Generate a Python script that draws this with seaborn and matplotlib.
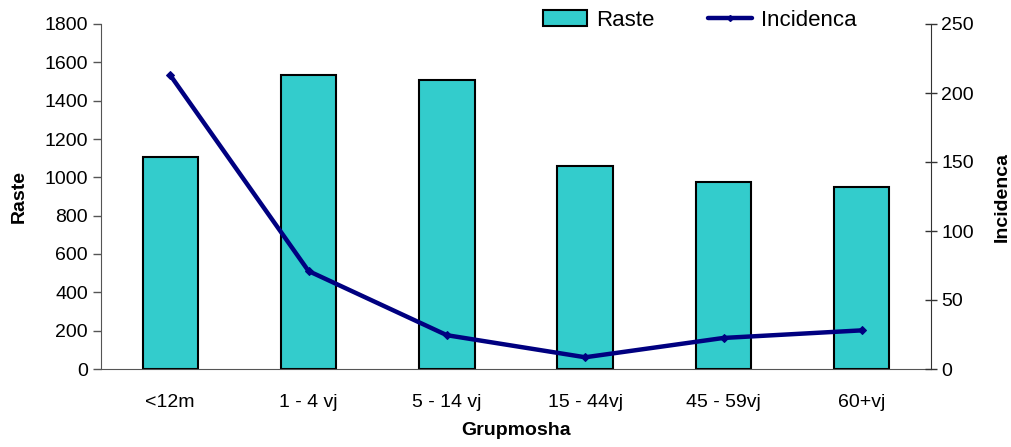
import matplotlib
matplotlib.use("Agg")
import matplotlib.pyplot as plt
import seaborn as sns
import pandas as pd
import numpy as np
from matplotlib.patches import Patch
from matplotlib.lines import Line2D

categories = ["<12m", "1 - 4 vj", "5 - 14 vj", "15 - 44vj", "45 - 59vj", "60+vj"]
raste = [1108, 1534, 1508, 1060, 976, 950]
incidenca = [213, 71, 24.5, 8.5, 22.5, 28]

sns.set_style("white")
plt.rcParams['font.family'] = ['Liberation Sans', 'DejaVu Sans']
plt.rcParams['text.color'] = 'black'
plt.rcParams['axes.labelcolor'] = 'black'
plt.rcParams['xtick.color'] = 'black'
plt.rcParams['ytick.color'] = 'black'

df = pd.DataFrame({"Grupmosha": categories, "Raste": raste, "Incidenca": incidenca,
                   "pos": np.arange(len(categories))})

fig = plt.figure(figsize=(10.12, 4.47), dpi=100)
ax = fig.add_axes([101/1012, 1-369/447, (931-101)/1012, (369-24)/447])

sns.barplot(data=df, x="Grupmosha", y="Raste", ax=ax, color="#33CCCC",
            edgecolor="black", linewidth=1.5, width=0.4, saturation=1)
ax.set_xlim(-0.5, len(categories)-0.5)
ax.set_ylim(0, 1800)
ax.set_yticks(range(0, 1801, 200))
ax.set_xticks(np.arange(len(categories)))
ax.set_xticklabels(categories)
ax.set_xticks(np.arange(-0.5, len(categories)), minor=True)
ax.tick_params(axis='x', which='major', length=0, labelsize=14, pad=18, labelcolor='black')
ax.tick_params(axis='x', which='minor', length=6, direction='inout', width=1, color='#333333')
ax.tick_params(axis='y', length=6, direction='out', width=1, labelsize=14, color='#555555',
               left=True, labelcolor='black')
ax.set_xlabel("Grupmosha", fontsize=14, fontweight='bold', labelpad=8, color='black')
ax.set_ylabel("Raste", fontsize=14, fontweight='bold', labelpad=12, color='black')
for s in ['top', 'right']:
    ax.spines[s].set_visible(False)
ax.spines['left'].set_color('#555555')
ax.spines['bottom'].set_color('#555555')

ax2 = ax.twinx()
sns.lineplot(data=df, x="pos", y="Incidenca", ax=ax2, color="#000080", linewidth=3.2,
             marker="D", markersize=4, markeredgecolor="#000080")
ax2.set_xlim(-0.5, len(categories)-0.5)
ax2.set_ylim(0, 250)
ax2.set_yticks(range(0, 251, 50))
ax2.tick_params(axis='y', length=8, direction='inout', width=1, labelsize=14, right=True,
                color='#333333', labelcolor='black')
ax2.set_ylabel("Incidenca", fontsize=14, fontweight='bold', labelpad=14, rotation=90, color='black')
ax2.set_xlabel("")
for s in ['top', 'left', 'bottom']:
    ax2.spines[s].set_visible(False)
ax2.spines['right'].set_color('#333333')

handles = [Patch(facecolor="#33CCCC", edgecolor="black", linewidth=1.5, label="Raste"),
           Line2D([0], [0], color="#000080", linewidth=3.2, marker="D", markersize=3, label="Incidenca")]
fig.legend(handles=handles, loc='center', bbox_to_anchor=(700/1012, 1-20/447), ncol=2,
           frameon=False, fontsize=16, handlelength=2.0, columnspacing=2.4, handletextpad=0.4,
           labelcolor='black')

fig.savefig("out.png", dpi=100)
